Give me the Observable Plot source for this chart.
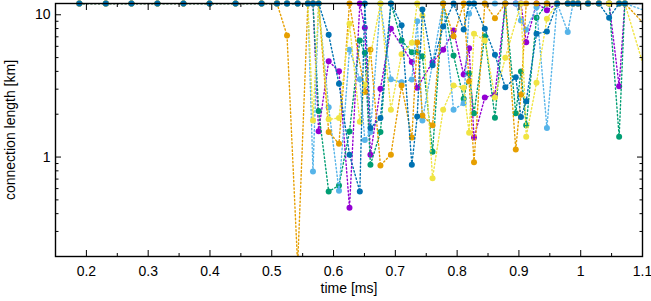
<!DOCTYPE html>
<html>
<head>
<meta charset="utf-8">
<script src="https://cdn.jsdelivr.net/npm/d3@7"></script>
<script src="https://cdn.jsdelivr.net/npm/@observablehq/plot@0.6"></script>
<style>
  html, body { margin: 0; padding: 0; background: #fff; }
  #chart { width: 651px; height: 301px; }
</style>
</head>
<body>
<div id="chart"></div>
<script>
// time samples [ms]
const times = [0.1886,0.2314,0.2729,0.3150,0.3571,0.3993,0.4414,0.4835,
  0.5085,0.5247,0.5419,0.5584,0.5667,0.5758,0.5921,0.6088,0.6258,0.6425,
  0.6506,0.6597,0.6759,0.6928,0.7101,0.7267,0.7354,0.7438,0.7602,0.7774,
  0.7942,0.8106,0.8194,0.8273,0.8448,0.8612,0.8780,0.8949,0.9033,0.9118,
  0.9285,0.9453,0.9620,0.9790,0.9876,0.9957,1.0119,1.0294,1.0460,1.0622,
  1.0714,1.1120];

// connection length [km] per series (12 = capped at top, null = no sample)
const purple = [12,12,12,12,12,12,12,12,
  12,12,12,12,12,1.52,4.72,4.01,0.44,12,
  8.10,1.04,3.02,7.97,null,4.66,3.07,null,4.64,5.67,
  7.75,3.80,5.82,1.37,2.62,2.75,12,12,12,6.41,
  12,10.77,12,12,12,12,12,12,12,3.15,
  12,12];
const green = [12,12,12,12,12,12,12,12,
  12,12,12,12,12,2.11,0.573,0.631,1.51,6.59,
  5.40,0.882,1.50,12,6.59,5.46,5.46,5.11,1.09,12,
  5.17,2.57,3.88,2.03,7.07,1.89,12,2.03,3.99,1.67,
  9.52,12,12,12,12,12,12,12,12,1.39,
  12,12];
const lightBlue = [12,12,12,12,12,12,12,12,
  12,12,12,12,0.791,12,2.24,0.580,5.67,3.52,
  1.32,1.50,12,3.52,3.36,3.51,9.01,1.81,null,12,
  2.15,2.39,10.16,12,12,12,12,12,9.11,7.84,
  11.3,1.60,12,7.58,12,12,12,12,12,12,
  12,10.4];
const orange = [12,12,12,12,12,12,12,12,
  12,7.15,0.173,12,12,12,1.50,1.24,12,null,
  2.86,5.67,0.872,1.04,3.18,1.37,6.38,1.96,1.67,12,
  7.07,12,3.40,0.92,12,9.46,12,1.13,2.74,12,
  12,12,12,12,12,12,12,12,12,12,
  12,7.8];
const yellow = [12,12,12,12,12,12,12,12,
  12,12,12,12,1.81,12,1.84,1.88,8.64,1.77,
  3.24,null,12,2.15,5.28,6.35,12,9.88,0.710,2.15,
  3.18,3.07,1.48,7.35,6.59,2.62,4.98,null,12,1.39,
  3.33,9.37,12,12,12,12,12,12,12,12,
  12,3.1];
const darkBlue = [12,12,12,12,12,12,12,12,
  12,12,12,12,12,12,7.23,3.27,1.04,0.573,
  12,1.60,1.88,12,8.45,0.882,1.93,10.89,4.42,8.27,
  12,7.88,12,12,7.97,5.23,3.09,3.64,1.91,2.47,
  7.35,7.63,12,12,12,12,12,12,9.52,12,
  12,12];

const seriesValues = [purple, green, lightBlue, orange, yellow, darkBlue];
const seriesColors = ["#9400d3", "#009e73", "#56b4e9", "#e69f00", "#f0e442", "#0072b2"];

// axes
const xTicks = [0.2,0.3,0.4,0.5,0.6,0.7,0.8,0.9,1.0,1.1];
const xMinorTicks = [0.25,0.35,0.45,0.55,0.65,0.75,0.85,0.95,1.05];
const yTicks = [1, 10];
const yMinorTicks = [0.2,0.3,0.4,0.5,0.6,0.7,0.8,0.9,2,3,4,5,6,7,8,9];
const xDomain = [0.15, 1.1];
const yDomain = [0.2, 12];
const xTitle = "time [ms]";
const yTitle = "connection length [km]";

const fmt = d => String(+(+d).toFixed(2));
const blank = () => "";

const marks = [];
seriesValues.forEach((vals, i) => {
  const data = times.map((t, j) => ({t, v: vals[j]})).filter(d => d.v != null);
  marks.push(Plot.line(data, {x: "t", y: "v", stroke: seriesColors[i], strokeWidth: 1.4,
    strokeDasharray: "1.4,2.4", clip: true}));
  const vis = data.filter(d => d.t <= xDomain[1] && d.v >= yDomain[0] && d.v <= yDomain[1]);
  marks.push(Plot.dot(vis, {x: "t", y: "v", fill: seriesColors[i], r: 3}));
});

const chart = Plot.plot({
  width: 651,
  height: 301,
  marginLeft: 55,
  marginRight: 9,
  marginTop: 3,
  marginBottom: 45,
  style: {background: "white", fontFamily: "'Liberation Sans', Arial, sans-serif", fontSize: "14px", color: "black"},
  x: {domain: xDomain, label: null},
  y: {type: "log", domain: yDomain, label: null},
  marks: [
    ...marks,
    Plot.axisX({ticks: xTicks, anchor: "bottom", tickSize: -6, tickFormat: blank, label: null}),
    Plot.axisX({ticks: xMinorTicks, anchor: "bottom", tickSize: -3, tickFormat: blank, label: null}),
    Plot.axisX({ticks: xTicks, anchor: "top", tickSize: -6, tickFormat: blank, label: null}),
    Plot.axisX({ticks: xMinorTicks, anchor: "top", tickSize: -3, tickFormat: blank, label: null}),
    Plot.axisX({ticks: xTicks, anchor: "bottom", tickSize: 0, tickPadding: 10, tickFormat: fmt, label: null, fontSize: 14}),
    Plot.axisY({ticks: yTicks, anchor: "left", tickSize: -6, tickFormat: blank, label: null}),
    Plot.axisY({ticks: yMinorTicks, anchor: "left", tickSize: -3.5, tickFormat: blank, label: null}),
    Plot.axisY({ticks: yTicks, anchor: "right", tickSize: -6, tickFormat: blank, label: null}),
    Plot.axisY({ticks: yMinorTicks, anchor: "right", tickSize: -3.5, tickFormat: blank, label: null}),
    Plot.axisY({ticks: yTicks, anchor: "left", tickSize: 0, tickPadding: 5, tickFormat: fmt, label: null, fontSize: 14}),
    Plot.frame({stroke: "black", strokeWidth: 1.4}),
    Plot.text([xTitle], {text: d => d, frameAnchor: "bottom", textAnchor: "middle", dy: 36, fontSize: 14}),
    Plot.text([yTitle], {text: d => d, frameAnchor: "left", textAnchor: "middle", dx: -45, rotate: -90, fontSize: 14})
  ]
});
document.getElementById("chart").appendChild(chart);
</script>
</body>
</html>
